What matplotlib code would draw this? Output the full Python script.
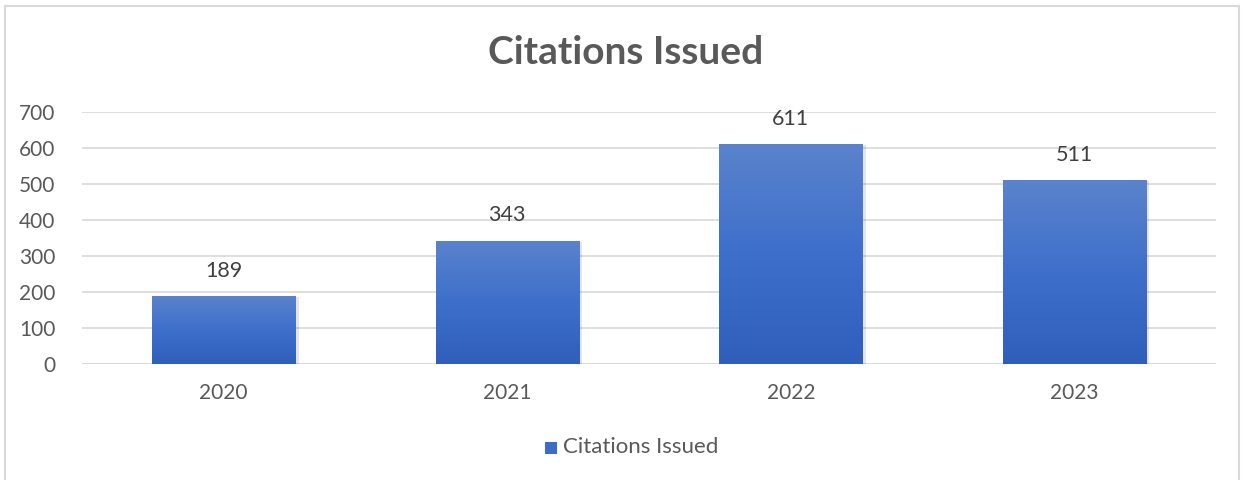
import numpy as np
import matplotlib.pyplot as plt
from matplotlib.patches import Rectangle
from matplotlib.colors import LinearSegmentedColormap

years = ['2020', '2021', '2022', '2023']
citations = [189, 343, 611, 511]
y_ticks = [0, 100, 200, 300, 400, 500, 600, 700]

plt.rcParams['font.family'] = ['Lato', 'DejaVu Sans']
text_grey = '#595959'

fig = plt.figure(figsize=(12.43, 4.8), dpi=100)
# outer chart border
fig.patches.append(Rectangle((0.004, -0.01), 0.993, 0.998, transform=fig.transFigure,
                             fill=False, edgecolor='#d9d9d9', linewidth=1.5))

ax = fig.add_axes([82 / 1243, 1 - 364 / 480, (1216 - 82) / 1243, 252 / 480])

grad = LinearSegmentedColormap.from_list('bar', ['#2f5fbb', '#3d6fcb', '#5b83cd'])
xs = np.arange(len(years))
width = 0.505
for x, v in zip(xs, citations):
    # soft shadow
    ax.add_patch(Rectangle((x - width / 2 + 0.012, -4), width, v, facecolor='#000000',
                           alpha=0.10, linewidth=0, zorder=2))
    bar = Rectangle((x - width / 2, 0), width, v, facecolor='none', linewidth=0, zorder=3)
    ax.add_patch(bar)
    img = ax.imshow(np.linspace(0, 1, 256).reshape(-1, 1), cmap=grad, aspect='auto',
                    extent=(x - width / 2, x + width / 2, 0, v), origin='lower', zorder=3)
    img.set_clip_path(bar)
    ax.text(x, v + 42, str(v), ha='center', va='bottom', fontsize=15.5, color='#404040')

ax.set_xlim(-0.5, len(years) - 0.5)
ax.set_ylim(0, 700)
ax.set_yticks(y_ticks)
ax.set_xticks(xs)
ax.set_xticklabels(years)
ax.tick_params(axis='both', length=0, labelsize=15, labelcolor=text_grey)
ax.tick_params(axis='y', pad=19)
ax.tick_params(axis='x', pad=14)
ax.grid(axis='y', color='#d9d9d9', linewidth=1.2, zorder=0)
ax.set_axisbelow(True)
for s in ax.spines.values():
    s.set_visible(False)
ax.axhline(0, color='#d9d9d9', linewidth=1.2, zorder=1)

fig.text(626 / 1243, 1 - 52 / 480, 'Citations Issued', ha='center', va='center',
         fontsize=28, fontweight='bold', color=text_grey)

# legend
fig.patches.append(Rectangle((545 / 1243, 1 - 454 / 480), 12 / 1243, 12 / 480,
                             transform=fig.transFigure, facecolor='#3d6cc6', edgecolor='none'))
fig.text(563 / 1243, 1 - 447 / 480, 'Citations Issued', ha='left', va='center',
         fontsize=16, color=text_grey)

fig.savefig('out.png', dpi=100)
